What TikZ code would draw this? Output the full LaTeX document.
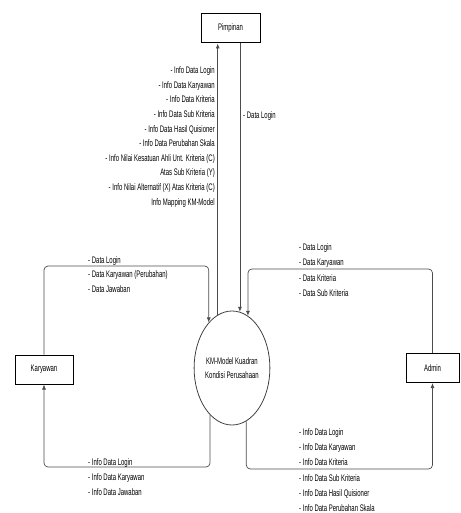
\documentclass[tikz,border=0pt]{standalone}
\usepackage{fontspec}
\setmainfont{Liberation Sans}[FakeStretch=0.63]
\usetikzlibrary{arrows.meta,shapes.geometric}
\begin{document}
\begin{tikzpicture}[x=1pt,y=-1pt,
  box/.style={draw=black,line width=1pt,minimum width=59pt,minimum height=29pt,inner sep=0pt,font=\fontsize{9.5}{11}\selectfont},
  proc/.style={ellipse,draw=black!75,line width=0.8pt,minimum width=62pt,minimum height=114pt,inner sep=0pt,align=center,font=\fontsize{9.5}{14}\selectfont},
  flow/.style={draw=black!70,line width=0.7pt,rounded corners=4pt,-{Latex[length=5pt,width=4pt]}},
  lbl/.style={inner sep=0pt,font=\fontsize{9.5}{15}\selectfont,text=black},
]
\useasboundingbox (0,0) rectangle (460,513);
\node[box] (pim) at (230.5,28.5) {Pimpinan};
\node[box,minimum width=58pt] (kar) at (44,369.5) {Karyawan};
\node[box,minimum width=53pt] (adm) at (432.5,368) {Admin};
\node[proc] (km) at (232,368) {KM-Model Kuadran\\Kondisi Perusahaan};

\coordinate (ylt) at (0,266);
\coordinate (yrt) at (0,269);
\coordinate (ylb) at (0,467);
\coordinate (yrb) at (0,469);

\draw[flow] (km.105) -- (km.105 |- pim.south);
\draw[flow] (pim.south -| km.82) -- (km.82);
\draw[flow] (kar.north) |- (km.117 |- ylt) -- (km.117);
\draw[flow] (adm.north) |- (km.73 |- yrt) -- (km.73);
\draw[flow] (km.245) |- (kar.south |- ylb) -- (kar.south);
\draw[flow] (km.285) |- (adm.south |- yrb) -- (adm.south);

\node[lbl,anchor=north east,align=right,font=\fontsize{9.5}{14.6}\selectfont] (pimL) at (215,66.6)
 {- Info Data Login\\- Info Data Karyawan\\- Info Data Kriteria\\- Info Data Sub Kriteria\\- Info Data Hasil Quisioner\\- Info Data Perubahan Skala\\- Info Nilai Kesatuan Ahli Unt. Kriteria (C)\\Atas Sub Kriteria (Y)\\- Info  Nilai Alternatif (X) Atas Kriteria (C)\\Info Mapping KM-Model};
\node[lbl,anchor=base west] (pimR) at (243,118.3) {- Data Login};
\node[lbl,anchor=north west,align=left,font=\fontsize{9.5}{14.7}\selectfont] (karIn) at (88,256.1)
 {- Data Login\\- Data Karyawan (Perubahan)\\- Data Jawaban};
\node[lbl,anchor=north west,align=left,font=\fontsize{9.5}{15.3}\selectfont] (admIn) at (299,243.5)
 {- Data Login\\- Data Karyawan\\- Data Kriteria\\- Data Sub Kriteria};
\node[lbl,anchor=north west,align=left] (karOut) at (88,458.3)
 {- Info Data Login\\- Info Data Karyawan\\- Info Data Jawaban};
\node[lbl,anchor=north west,align=left,font=\fontsize{9.5}{15.2}\selectfont] (admOut) at (299,428.5)
 {- Info Data Login\\- Info Data Karyawan\\- Info Data Kriteria\\- Info Data Sub Kriteria\\- Info Data Hasil Quisioner\\- Info Data Perubahan Skala};
\end{tikzpicture}
\end{document}
